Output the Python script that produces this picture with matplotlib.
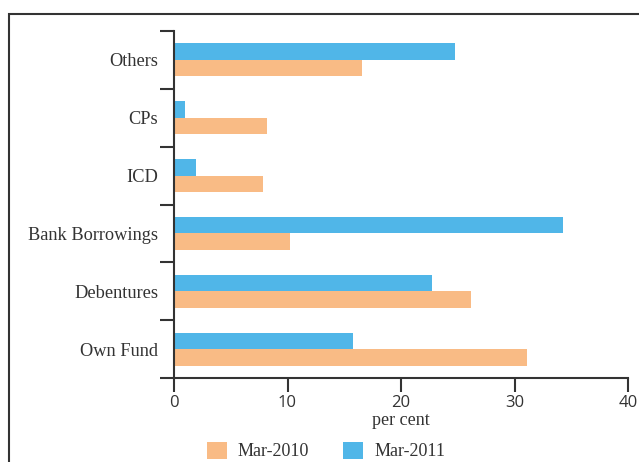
import matplotlib
matplotlib.use("Agg")
import matplotlib.pyplot as plt
from matplotlib.patches import Rectangle, Patch
import numpy as np

categories = ["Own Fund", "Debentures", "Bank Borrowings", "ICD", "CPs", "Others"]
mar2010 = [31.1, 26.2, 10.2, 7.8, 8.2, 16.6]
mar2011 = [15.8, 22.7, 34.3, 1.9, 1.0, 24.8]
series_labels = ["Mar-2010", "Mar-2011"]
xticks = [0, 10, 20, 30, 40]

orange = "#F9BB85"
blue = "#50B6E8"
dark = "#333333"
serif = ["Liberation Serif", "DejaVu Serif"]
sans = ["Open Sans", "DejaVu Sans"]

fig = plt.figure(figsize=(6.39, 4.62), dpi=100)
ax = fig.add_axes([174/639, 1-378/462, (628-174)/639, (378-31)/462])

y = np.arange(len(categories))
h = 0.285
ax.barh(y - h/2, mar2010, height=h, color=orange, label=series_labels[0])
ax.barh(y + h/2, mar2011, height=h, color=blue, label=series_labels[1])

ax.set_xlim(0, 40)
ax.set_ylim(-0.5, len(categories) - 0.5)
ax.set_xticks(xticks)
ax.set_xticklabels([str(t) for t in xticks], fontfamily=sans, fontsize=12, color=dark)
ax.set_yticks(np.arange(-0.5, len(categories), 1.0))
ax.set_yticklabels([])
ax.set_yticks(y, minor=True)
ax.set_yticklabels(categories, minor=True, fontfamily=serif, fontsize=13.2, color=dark)
ax.tick_params(axis="y", which="major", length=10, width=1.5, color=dark, direction="out")
ax.tick_params(axis="y", which="minor", length=0, pad=11.5)
ax.tick_params(axis="x", length=10, width=1.5, color=dark, direction="out", pad=2)

for s in ["top", "right"]:
    ax.spines[s].set_visible(False)
for s in ["left", "bottom"]:
    ax.spines[s].set_linewidth(1.5)
    ax.spines[s].set_color(dark)

ax.set_xlabel("per cent", fontfamily=serif, fontsize=13, color=dark, labelpad=1)

handles = [Patch(facecolor=orange), Patch(facecolor=blue)]
fig.legend(handles, series_labels, loc="center", bbox_to_anchor=(326/639, 1-451/462),
           ncol=2, frameon=False, prop={"family": serif, "size": 13},
           handlelength=1.1, handleheight=1.1, columnspacing=1.9, handletextpad=0.6,
           labelcolor=dark)

frame = Rectangle((9/639, -0.2), 1.0, 1.2 - 14/462, transform=fig.transFigure,
                  fill=False, edgecolor=dark, linewidth=1.5, clip_on=False)
fig.add_artist(frame)

fig.savefig("out.png", dpi=100)
